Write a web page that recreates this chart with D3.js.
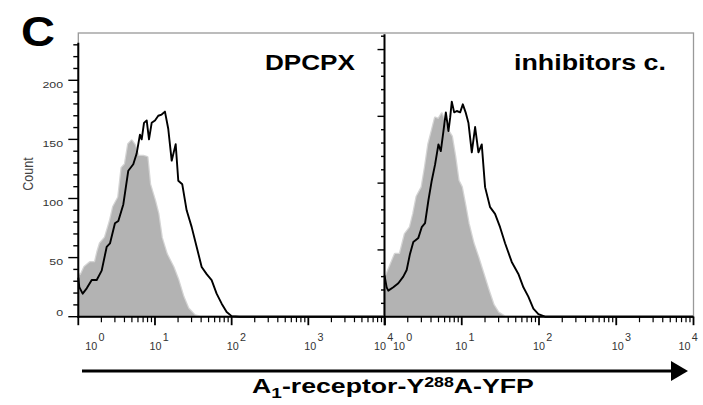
<!DOCTYPE html>
<html>
<head>
<meta charset="utf-8">
<script src="https://cdn.jsdelivr.net/npm/d3@7"></script>
<style>
html,body{margin:0;padding:0;background:#fff;}
svg{display:block;font-family:Arial,"Liberation Sans",Helvetica,sans-serif;}
</style>
</head>
<body>
<svg id="chart" width="703" height="405"></svg>
<script>
// ---------- DATA ----------
const panelTitles = ["DPCPX", "inhibitors c."];
const xTickExponents = [0, 1, 2, 3, 4];
const yTickLabels = [0, 50, 100, 150, 200];

// DPCPX panel: filled (control) histogram, log10 intensity and counts
const dpcpxFillLog   = [0, 0.03, 0.08, 0.153, 0.218, 0.25, 0.283, 0.348, 0.413, 0.456, 0.522, 0.566, 0.609, 0.652, 0.696, 0.739, 0.782, 0.847, 0.9, 0.935, 1.0, 1.043, 1.087, 1.153, 1.239, 1.304, 1.369, 1.434, 1.521, 1.586, 4];
const dpcpxFillCount = [36, 35, 42, 46, 46, 55, 62, 67, 81, 93, 101, 126, 129, 146, 149, 145, 136, 136, 135, 112, 98, 87, 67, 53, 42, 31, 17, 7, 1, 0, 0];
// DPCPX panel: outlined histogram
const dpcpxLineLog   = [0, 0.013, 0.057, 0.11, 0.175, 0.24, 0.305, 0.37, 0.413, 0.478, 0.522, 0.587, 0.652, 0.717, 0.761, 0.804, 0.827, 0.857, 0.892, 0.922, 0.957, 1.0, 1.043, 1.087, 1.13, 1.173, 1.218, 1.27, 1.304, 1.356, 1.413, 1.478, 1.544, 1.609, 1.674, 1.739, 1.804, 1.87, 1.935, 2.0, 2.1, 4];
const dpcpxLineCount = [33, 25, 19.5, 24, 31, 31, 39, 59, 62, 79, 81, 95, 123.5, 129, 138, 154, 150, 164, 166, 150, 164, 166, 170, 171, 173.5, 159, 132, 146, 115, 112, 90, 76, 59, 42, 36, 31, 19.5, 11, 4, 0.5, 0, 0];

// Inhibitors panel: filled (control) histogram
const inhFillLog   = [0, 0.093, 0.136, 0.2, 0.265, 0.33, 0.373, 0.417, 0.482, 0.525, 0.568, 0.612, 0.655, 0.698, 0.741, 0.784, 0.828, 0.871, 0.914, 0.957, 1.0, 1.043, 1.087, 1.151, 1.216, 1.281, 1.346, 1.41, 1.475, 1.561, 4];
const inhFillCount = [28, 41, 47, 47, 62, 67, 77, 90, 97, 112, 129, 139, 149, 148, 152, 145, 139, 135, 120, 102, 97, 84, 70, 55, 44, 32, 20, 9, 3, 0, 0];
// Inhibitors panel: outlined histogram
const inhLineLog   = [0, 0.028, 0.049, 0.114, 0.179, 0.243, 0.287, 0.33, 0.373, 0.438, 0.482, 0.525, 0.568, 0.612, 0.655, 0.698, 0.729, 0.763, 0.794, 0.828, 0.85, 0.871, 0.902, 0.936, 0.979, 1.014, 1.05, 1.087, 1.13, 1.173, 1.216, 1.259, 1.302, 1.367, 1.431, 1.496, 1.561, 1.647, 1.733, 1.798, 1.862, 1.927, 1.992, 2.078, 4];
const inhLineCount = [31, 22, 19.5, 22, 25, 30, 35, 47, 56, 59, 67, 70, 87, 102, 114, 129, 124, 139, 153, 139, 149, 161, 153, 154, 153, 159, 153, 145, 123, 142, 123, 129, 97, 82, 77, 67, 55, 41, 32, 22, 15, 6, 2, 0, 0];

// ---------- LAYOUT ----------
const svg = d3.select("#chart");
svg.append("rect").attr("width", 703).attr("height", 405).attr("fill", "#fff");

const plotTop = 33, plotBase = 316.7;
const panels = [
  {title: panelTitles[0], x0: 78.3, x1: 385, ymax: 240, fillLog: dpcpxFillLog, fillCount: dpcpxFillCount,
   lineLog: dpcpxLineLog, lineCount: dpcpxLineCount, labels: true, majorLen: 10, minorLen: 5,
   titleX: 265, titleW: 90, labelOffsets: [7, -5.5, -5, -4, -11]},
  {title: panelTitles[1], x0: 384.5, x1: 693.5, ymax: 212.4, fillLog: inhFillLog, fillCount: inhFillCount,
   lineLog: inhLineLog, lineCount: inhLineCount, labels: false, majorLen: 7, minorLen: 3.5,
   titleX: 514, titleW: 152, labelOffsets: [8.5, -6.5, -6, -4.5, -15]}
];

function stretchText(parent, x, y, width, build) {
  const g = parent.append("g").attr("transform", `translate(${x},${y})`);
  const t = g.append("text");
  build(t);
  const w = t.node().getBBox().width;
  const s = width / w;
  g.attr("transform", `translate(${x},${y}) scale(${s},1)`);
  return g;
}

// outer frame
svg.append("rect").attr("x", 78.3).attr("y", plotTop).attr("width", 693.5 - 78.3).attr("height", plotBase - plotTop)
  .attr("fill", "none").attr("stroke", "#999").attr("stroke-width", 1.3);

panels.forEach((p, pi) => {
  const x = d3.scaleLog().domain([1, 1e4]).range([p.x0, p.x1]);
  const y = d3.scaleLinear().domain([0, p.ymax]).range([plotBase, plotTop]);
  const g = svg.append("g");

  const fillData = p.fillLog.map((v, i) => [Math.pow(10, v), p.fillCount[i]]);
  const lineData = p.lineLog.map((v, i) => [Math.pow(10, v), p.lineCount[i]]);

  const area = d3.area().x(d => x(d[0])).y0(y(0)).y1(d => y(d[1]));
  g.append("path").datum(fillData).attr("d", area)
    .attr("fill", "#b3b3b3").attr("stroke", "#d4d4d4").attr("stroke-width", 2.5).attr("stroke-linejoin", "round");
  g.append("path").datum(fillData).attr("d", area).attr("fill", "#b3b3b3");

  const line = d3.line().x(d => x(d[0])).y(d => y(d[1]));
  g.append("path").datum(lineData).attr("d", line)
    .attr("fill", "none").attr("stroke", "#000").attr("stroke-width", 1.9).attr("stroke-linejoin", "round");

  // y axis (ticks every 10, major every 50)
  const maxTick = Math.floor(p.ymax / 10) * 10 - (pi === 0 ? 10 : 0);
  const yTicks = d3.range(0, maxTick + 1, 10);
  g.append("line").attr("x1", p.x0).attr("x2", p.x0).attr("y1", y(maxTick) - 2).attr("y2", plotBase + 1)
    .attr("stroke", "#000").attr("stroke-width", 2);
  g.selectAll(".yt").data(yTicks).join("line")
    .attr("x1", d => p.x0 - (d % 50 === 0 ? p.majorLen : p.minorLen)).attr("x2", p.x0)
    .attr("y1", d => y(d)).attr("y2", d => y(d)).attr("stroke", "#000").attr("stroke-width", 1.4);

  if (p.labels) {
    yTickLabels.forEach(v => {
      const yy = v === 0 ? y(v) - 0.5 : y(v) + 7.8;
      const lg = g.append("g").attr("transform", `translate(63,${yy}) scale(1.3,1)`);
      lg.append("text").attr("text-anchor", "end").attr("font-size", 9.5).attr("fill", "#333").text(v);
    });
    const cg = g.append("g").attr("transform", `translate(33,174) rotate(-90) scale(1,1.2)`);
    cg.append("text").attr("text-anchor", "middle").attr("font-size", 12.5).attr("fill", "#444").text("Count");
  }

  // x axis
  g.append("line").attr("x1", p.x0 - 1).attr("x2", p.x1).attr("y1", plotBase).attr("y2", plotBase)
    .attr("stroke", "#000").attr("stroke-width", 2);
  const minor = [];
  for (let e = 0; e < 4; e++) for (let m = 2; m <= 9; m++) minor.push(m * Math.pow(10, e));
  g.selectAll(".xm").data(minor).join("line")
    .attr("x1", d => x(d)).attr("x2", d => x(d)).attr("y1", plotBase).attr("y2", plotBase + 5.5)
    .attr("stroke", "#000").attr("stroke-width", 1.2);
  g.selectAll(".xM").data(xTickExponents).join("line")
    .attr("x1", d => x(Math.pow(10, d))).attr("x2", d => x(Math.pow(10, d))).attr("y1", plotBase).attr("y2", plotBase + 8.5)
    .attr("stroke", "#000").attr("stroke-width", 1.8);

  xTickExponents.forEach((e, i) => {
    const tx = x(Math.pow(10, e)) + p.labelOffsets[i];
    const lg = g.append("g").attr("transform", `translate(${tx},349.5) scale(1.08,1)`);
    const t = lg.append("text").attr("font-size", 10).attr("fill", "#333");
    t.append("tspan").text("10");
    t.append("tspan").attr("dx", 1.2).attr("dy", -8.5).text(e);
  });

  // panel title
  stretchText(svg, p.titleX, 69.5, p.titleW, t => t.attr("font-size", 22.5).attr("font-weight", "bold").attr("fill", "#000").text(p.title));
});

// panel letter
stretchText(svg, 21, 46, 34, t => t.attr("font-size", 43).attr("font-weight", "bold").attr("fill", "#000").text("C"));

// arrow
svg.append("line").attr("x1", 82).attr("x2", 674).attr("y1", 371).attr("y2", 371).attr("stroke", "#000").attr("stroke-width", 3);
svg.append("path").attr("d", "M671,361 L688,371 L671,381 Z").attr("fill", "#000");

// axis label
stretchText(svg, 252, 393.3, 282, t => {
  t.attr("font-size", 21).attr("font-weight", "bold").attr("fill", "#000");
  t.append("tspan").text("A");
  t.append("tspan").attr("font-size", 15).attr("dy", 5).text("1");
  t.append("tspan").attr("dy", -5).text("-receptor-Y");
  t.append("tspan").attr("font-size", 14).attr("dy", -6.6).text("288");
  t.append("tspan").attr("dy", 6.6).text("A-YFP");
});
</script>
</body>
</html>
